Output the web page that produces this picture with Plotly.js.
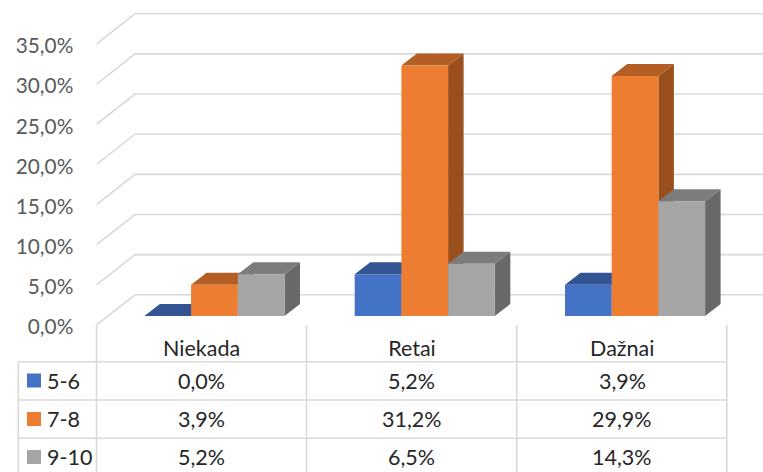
<!DOCTYPE html>
<html><head><meta charset="utf-8">
<script src="https://cdn.plot.ly/plotly-3.0.1.min.js"></script>
<style>html,body{margin:0;padding:0;background:#fff}#c{width:763px;height:472px}</style>
</head><body><div id="c"></div>
<script>
const categories = ['Niekada', 'Retai', 'Dažnai'];
const seriesNames = ['5-6', '7-8', '9-10'];
const s56 = [0.0, 5.2, 3.9];
const s78 = [3.9, 31.2, 29.9];
const s910 = [5.2, 6.5, 14.3];
const yTicks = [0, 5, 10, 15, 20, 25, 30, 35];
const frontColors = ['#4472C4', '#ED7D31', '#A5A5A5'];
const topColors = ['#335593', '#B25E24', '#7C7C7C'];
const sideColors = ['#2A4A80', '#9A4F1C', '#696969'];

const W = 763, H = 472;
const series = [s56, s78, s910];
const fmt = v => v.toFixed(1).replace('.', ',') + '%';
const font = 'Lato, Carlito, Calibri, sans-serif';

// scales (pixels per unit)
const pxCat = 210.3, pxPct = 8.03;
const left = 96.5, floorY = 325;
const xr = [-0.5, -0.5 + (W - left) / pxCat];
const yr = [0, floorY / pxPct];
// plane offsets: bar plane and back wall relative to the front plane
const barDx = 12.8 / pxCat, barDy = 9 / pxPct;
const backDx = 38.5 / pxCat, backDy = 30.2 / pxPct;
const depthDx = 15.5 / pxCat, depthDy = 12 / pxPct;
const barW = 46.7 / pxCat;

const traces = [];
// back wall gridlines with their diagonal on the side wall
const gx = [], gy = [];
yTicks.forEach(t => {
  gx.push(xr[0], xr[0] + backDx, xr[1], null);
  gy.push(t, t + backDy, t + backDy, null);
});
traces.push({type: 'scatter', mode: 'lines', x: gx, y: gy, xaxis: 'x', yaxis: 'y',
  line: {color: '#D9D9D9', width: 1.6}, hoverinfo: 'skip', showlegend: false});

// top and side faces
series.forEach((vals, k) => {
  const tx = [], ty = [], sx = [], sy = [];
  vals.forEach((v, i) => {
    const x0 = i + (k - 1.5) * barW + barDx, x1 = x0 + barW;
    const h = v + barDy, b = barDy;
    tx.push(x0, x1, x1 + depthDx, x0 + depthDx, x0, null);
    ty.push(h, h, h + depthDy, h + depthDy, h, null);
    sx.push(x1, x1 + depthDx, x1 + depthDx, x1, x1, null);
    sy.push(b, b + depthDy, h + depthDy, h, b, null);
  });
  traces.push({type: 'scatter', mode: 'lines', x: sx, y: sy, xaxis: 'x', yaxis: 'y', fill: 'toself',
    fillcolor: sideColors[k], line: {width: 0, color: sideColors[k]}, hoverinfo: 'skip', showlegend: false});
  traces.push({type: 'scatter', mode: 'lines', x: tx, y: ty, xaxis: 'x', yaxis: 'y', fill: 'toself',
    fillcolor: topColors[k], line: {width: 0, color: topColors[k]}, hoverinfo: 'skip', showlegend: false});
});

// front faces
series.forEach((vals, k) => {
  traces.push({type: 'bar', name: seriesNames[k], x: [0, 1, 2], y: vals, width: barW,
    offset: (k - 1.5) * barW, xaxis: 'x2', yaxis: 'y2',
    marker: {color: frontColors[k], line: {width: 0}}, showlegend: false});
});

// data table
const fx = p => p / W, fy = p => (H - p) / H;
const tableColor = '#D9D9D9';
const colX = [96.5, 306.5, 516.8, 726.8];
const rowY = [361.7, 400, 438.2];
const rowMid = [380.5, 419, 457];
const shapes = [];
const ln = (x0, y0, x1, y1) => shapes.push({type: 'line', xref: 'paper', yref: 'paper',
  x0: fx(x0), x1: fx(x1), y0: fy(y0), y1: fy(y1), line: {color: tableColor, width: 1.6}, layer: 'below'});
colX.forEach(x => ln(x, floorY, x, H));
ln(18.3, rowY[0], 18.3, H);
rowY.forEach(y => ln(18.3, y, colX[3], y));
const annotations = [];
const textSize = 21.5;
seriesNames.forEach((n, k) => {
  shapes.push({type: 'rect', xref: 'paper', yref: 'paper', x0: fx(27), x1: fx(41),
    y0: fy(rowMid[k] - 7), y1: fy(rowMid[k] + 7), fillcolor: frontColors[k], line: {width: 0}});
  annotations.push({xref: 'paper', yref: 'paper', x: fx(44.5), y: fy(rowMid[k]), xanchor: 'left', yanchor: 'middle',
    text: n, showarrow: false, font: {family: font, size: textSize, color: '#262626'}});
  series[k].forEach((v, i) => annotations.push({xref: 'x', yref: 'paper', x: i, y: fy(rowMid[k]),
    xanchor: 'center', yanchor: 'middle', text: fmt(v), showarrow: false,
    font: {family: font, size: textSize, color: '#262626'}}));
});

const dom = {x: [left / W, 1], y: [(H - floorY) / H, 1]};
const layout = {
  width: W, height: H, margin: {l: 0, r: 0, t: 0, b: 0},
  paper_bgcolor: '#fff', plot_bgcolor: 'rgba(0,0,0,0)', showlegend: false,
  barmode: 'overlay', hovermode: false,
  xaxis: {domain: dom.x, range: xr, tickmode: 'array', tickvals: [0, 1, 2], ticktext: categories,
    showgrid: false, zeroline: false, showline: false, ticks: 'outside', ticklen: 4, tickcolor: 'rgba(0,0,0,0)',
    tickfont: {family: font, size: textSize, color: '#262626'}},
  yaxis: {domain: dom.y, range: yr, tickmode: 'array', tickvals: yTicks, ticktext: yTicks.map(fmt),
    showgrid: false, zeroline: false, showline: false, ticks: 'outside', ticklen: 18, tickcolor: 'rgba(0,0,0,0)',
    ticklabelshift: 2, tickfont: {family: font, size: 20.8, color: '#595959'}},
  xaxis2: {domain: dom.x, range: [xr[0] - barDx, xr[1] - barDx], overlaying: 'x', visible: false},
  yaxis2: {domain: dom.y, range: [yr[0] - barDy, yr[1] - barDy], overlaying: 'y', visible: false},
  shapes, annotations
};
Plotly.newPlot('c', traces, layout, {staticPlot: true, displayModeBar: false});
</script></body></html>
